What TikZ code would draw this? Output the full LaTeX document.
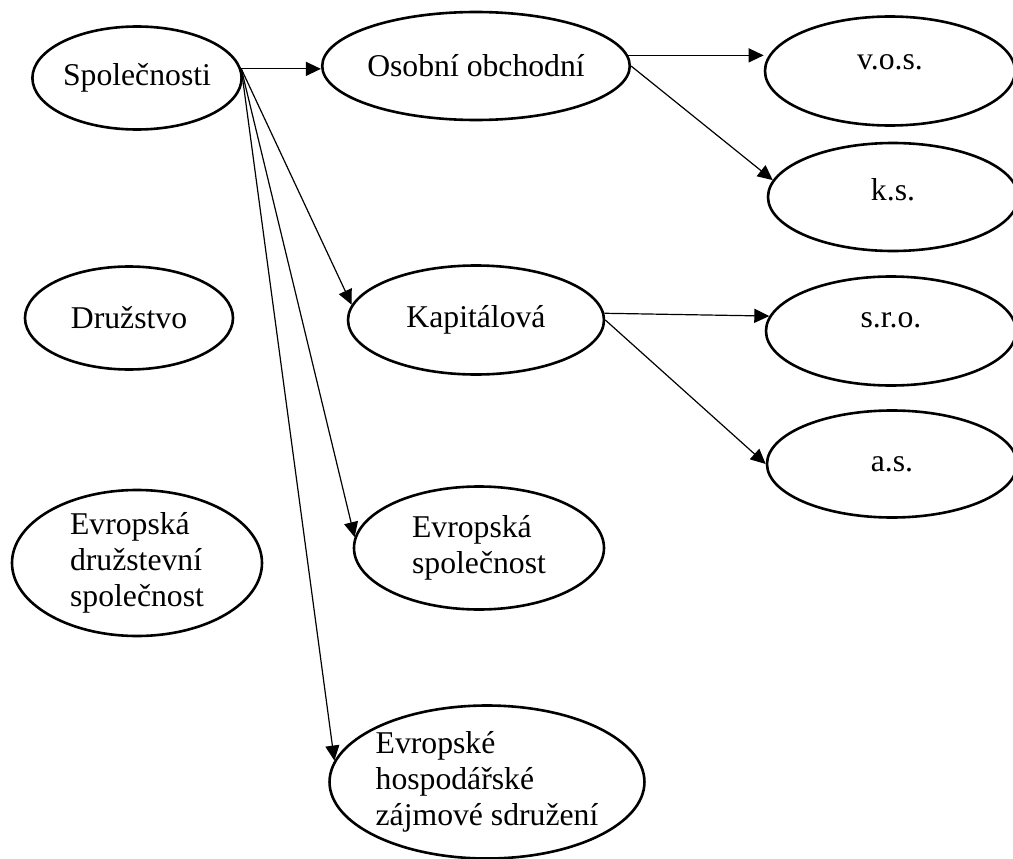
\documentclass[tikz,border=0pt]{standalone}
\usepackage{fontspec}
\setmainfont{Liberation Serif}
\usetikzlibrary{shapes.geometric,arrows.meta}

\begin{document}
\begin{tikzpicture}[
		x=1pt, y=-1pt,
		oval/.style={
			draw,
			ellipse,
			line width=2.6pt,
			inner sep=0pt,
			align=left,
			font=\fontsize{31.7}{36}\selectfont
		},
		txt/.style={font=\fontsize{31.7}{36}\selectfont},
		arrow/.style={-{Triangle[length=15pt,width=14pt]}, line width=1.2pt}
		]
		
		\useasboundingbox (0,0) rectangle (1013,859);
		
		% left column
		\node[oval, minimum width=208, minimum height=103] (spol) at (137,78) {Společnosti};
		\node[oval, minimum width=208, minimum height=103] (druz) at (129,318) {Družstvo};
		\node[oval, minimum width=250, minimum height=146] (eds) at (137,563) {Evropská\\družstevní\\společnost};
		
		% middle column
		\node[oval, minimum width=256, minimum height=108] (osob) at (476,66) {Osobní obchodní};
		\node[oval, minimum width=256, minimum height=109] (kap) at (476,320) {Kapitálová};
		\node[oval, minimum width=250, minimum height=123] (es) at (479,548) {Evropská\\společnost};
		\node[oval, minimum width=312, minimum height=153] (ehzs) at (487,782) {Evropské\\hospodářské\\zájmové sdružení};
		
		% right column
		\node[oval, minimum width=250, minimum height=109, label={[txt, yshift=9pt]center:v.o.s.}] (vos) at (890,71) {};
		\node[oval, minimum width=250, minimum height=108, label={[txt, yshift=7pt]center:k.s.}] (ks) at (893,197) {};
		\node[oval, minimum width=250, minimum height=109, label={[txt, yshift=11pt]center:s.r.o.}] (sro) at (891,331) {};
		\node[oval, minimum width=250, minimum height=107] (as) at (892,464) {a.s.};
		
		\draw[arrow] (spol.5) -- (spol.5 -| osob.west);
		\draw[arrow] (spol.5) -- (kap.173);
		\draw[arrow] (spol.5) -- (es.175);
		\draw[arrow] (spol.5) -- (ehzs.172);
		
		\draw[arrow] (osob.4) -- (osob.4 -| vos.west);
		\draw[arrow] (osob.east) -- (ks.172);
		\draw[arrow] (kap.3) -- (sro.173);
		\draw[arrow] (kap.east) -- (as.west);
		
	\end{tikzpicture}
\end{document}
